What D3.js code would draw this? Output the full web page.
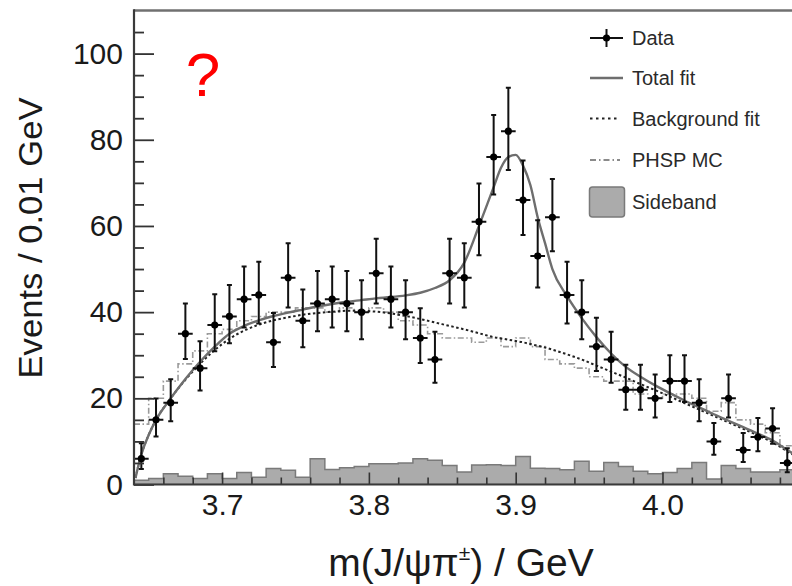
<!DOCTYPE html>
<html>
<head>
<meta charset="utf-8">
<script src="https://cdn.jsdelivr.net/npm/d3@7"></script>
<style>
  body { margin: 0; background: #fff; }
  svg { display: block; }
  text { font-family: "Liberation Sans", Arial, Helvetica, sans-serif; }
</style>
</head>
<body>
<svg id="chart" width="792" height="586"></svg>
<script>
// ---- Data: m(J/psi pi) spectrum, 0.01 GeV bins ----
const binCenters = [3.645,3.655,3.665,3.675,3.685,3.695,3.705,3.715,3.725,3.735,
  3.745,3.755,3.765,3.775,3.785,3.795,3.805,3.815,3.825,3.835,
  3.845,3.855,3.865,3.875,3.885,3.895,3.905,3.915,3.925,3.935,
  3.945,3.955,3.965,3.975,3.985,3.995,4.005,4.015,4.025,4.035,
  4.045,4.055,4.065,4.075,4.085];
const binWidth = 0.01;

const dataCounts = [6,15,19,35,27,37,39,43,44,33,
  48,38,42,43,42,40,49,43,40,34,
  29,49,48,61,76,82,66,53,62,44,
  40,32,29,22,22,20,24,24,19,10,
  20,8,11,13,5];

const sidebandCounts = [1.0,1.4,2.5,1.9,1.4,2.5,1.4,2.8,1.7,3.7,
  3.3,1.7,6.0,3.5,3.9,4.2,4.8,4.8,5.0,6.0,
  5.6,4.4,2.9,4.5,4.6,4.4,6.5,3.8,3.7,3.4,
  5.4,3.1,5.1,4.2,3.1,2.5,2.8,3.7,5.1,1.3,
  4.4,3.7,2.9,2.9,3.4];

const phspCounts = [14,20,24,28,31,35,36,38,39,40,
  40,41,41,40,41,40,41,40,38,37,
  35,34,34,33,34,32,34,32,29,28,
  27,25,24,24,21,20,21,21,20,17,
  19,15,14,12,9];

// Fit curves sampled along the mass axis
const fitMass = [3.641,3.645,3.650,3.655,3.665,3.675,3.685,3.695,3.705,3.715,
  3.725,3.735,3.745,3.755,3.765,3.775,3.785,3.795,3.805,3.815,
  3.825,3.835,3.845,3.855,3.865,3.875,3.885,3.890,3.895,3.900,
  3.905,3.910,3.915,3.920,3.925,3.935,3.945,3.955,3.965,3.975,
  3.985,3.995,4.005,4.015,4.025,4.035,4.045,4.055,4.065,4.075,
  4.085,4.092];
const totalFit = [1.5,7,11.5,15,20,24.5,28.5,32,35,36.8,
  38.1,39.1,39.9,40.6,41.3,41.9,42.4,42.8,43.2,43.5,
  43.9,44.5,45.6,47.4,51.5,60,69,73.5,76,76.5,
  74,69.5,62,56,50,43.7,38.6,34.2,30.4,27.3,
  25,23,21.2,19.5,17.9,16.3,14.8,13.3,11.8,10.2,
  8,6.5];
const backgroundFit = [1.5,7,11.5,15,20,24.3,28,31.2,33.8,35.7,
  37.1,38.1,38.8,39.4,39.8,40.1,40.3,40.3,40.1,39.7,
  39.1,38.4,37.6,36.8,36,35.1,34.2,33.9,33.6,33.3,
  33,32.6,32.2,31.8,31.3,30.2,29,27.6,26.2,24.8,
  23.3,21.9,20.4,18.9,17.4,15.9,14.4,12.9,11.4,9.8,
  7.7,6.3];

// Axis ticks and labels
const xMajorTicks = [3.7, 3.8, 3.9, 4.0];
const xMinorTicks = [3.66,3.68,3.72,3.74,3.76,3.78,3.82,3.84,3.86,3.88,3.92,3.94,3.96,3.98,4.02,4.04,4.06,4.08];
const yMajorTicks = [0, 20, 40, 60, 80, 100];
const yMinorTicks = [5,10,15,25,30,35,45,50,55,65,70,75,85,90,95,105];

const legendItems = ["Data", "Total fit", "Background fit", "PHSP MC", "Sideband"];

// ---- Layout ----
const W = 792, H = 586;
const plotLeft = 134, plotTop = 10.5, plotBottom = 484.5;

const svg = d3.select("#chart");
svg.append("rect").attr("width", W).attr("height", H).attr("fill", "#fff");

const x = d3.scaleLinear().domain([3.64, 4.1]).range([plotLeft, plotLeft + 0.46 * 1468]);
const y = d3.scaleLinear().domain([0, 110]).range([plotBottom, plotTop]);

svg.append("defs").append("clipPath").attr("id", "plotClip")
  .append("rect").attr("x", plotLeft).attr("y", plotTop)
  .attr("width", W - plotLeft).attr("height", plotBottom - plotTop);

const plot = svg.append("g").attr("clip-path", "url(#plotClip)");

// Histogram helper: step points from bin centres
function stepPoints(values) {
  const pts = values.map((v, i) => [binCenters[i] - binWidth / 2, v]);
  const last = binCenters.length - 1;
  pts.push([binCenters[last] + binWidth / 2, values[last]]);
  return pts;
}

// Sideband (filled histogram)
const sbArea = d3.area()
  .x(d => x(d[0])).y0(y(0)).y1(d => y(d[1]))
  .curve(d3.curveStepAfter);
plot.append("path")
  .datum(stepPoints(sidebandCounts))
  .attr("d", sbArea)
  .attr("fill", "#ababab")
  .attr("stroke", "#7a7a7a")
  .attr("stroke-width", 1.5);

// PHSP MC (dash-dot histogram)
const stepLine = d3.line().x(d => x(d[0])).y(d => y(d[1])).curve(d3.curveStepAfter);
plot.append("path")
  .datum(stepPoints(phspCounts))
  .attr("d", stepLine)
  .attr("fill", "none")
  .attr("stroke", "#9a9a9a")
  .attr("stroke-width", 1.6)
  .attr("stroke-dasharray", "6,2.5,1.5,2.5");

// Fit curves
const smooth = d3.line().x(d => x(d[0])).y(d => y(d[1])).curve(d3.curveMonotoneX);
plot.append("path")
  .datum(fitMass.map((m, i) => [m, backgroundFit[i]]))
  .attr("d", smooth)
  .attr("fill", "none")
  .attr("stroke", "#222")
  .attr("stroke-width", 2)
  .attr("stroke-dasharray", "2.5,2.5");
plot.append("path")
  .datum(fitMass.map((m, i) => [m, totalFit[i]]))
  .attr("d", smooth)
  .attr("fill", "none")
  .attr("stroke", "#6e6e6e")
  .attr("stroke-width", 2.4);

// Data points with Poisson (Gehrels) intervals from the counts
const points = binCenters.map((c, i) => {
  const n = dataCounts[i];
  return { c, n, hi: Math.sqrt(n + 0.75) + 1, lo: Math.sqrt(Math.max(n - 0.25, 0)) };
});
const pg = plot.append("g").attr("stroke", "#111").attr("stroke-width", 2);
pg.selectAll("line.v").data(points).join("line")
  .attr("x1", d => x(d.c)).attr("x2", d => x(d.c))
  .attr("y1", d => y(d.n + d.hi)).attr("y2", d => y(d.n - d.lo));
pg.selectAll("line.h").data(points).join("line")
  .attr("x1", d => x(d.c - binWidth / 2)).attr("x2", d => x(d.c + binWidth / 2))
  .attr("y1", d => y(d.n)).attr("y2", d => y(d.n));
pg.selectAll("line.capT").data(points).join("line")
  .attr("x1", d => x(d.c) - 2.5).attr("x2", d => x(d.c) + 2.5)
  .attr("y1", d => y(d.n + d.hi)).attr("y2", d => y(d.n + d.hi));
pg.selectAll("line.capB").data(points).join("line")
  .attr("x1", d => x(d.c) - 2.5).attr("x2", d => x(d.c) + 2.5)
  .attr("y1", d => y(d.n - d.lo)).attr("y2", d => y(d.n - d.lo));
plot.append("g").selectAll("circle").data(points).join("circle")
  .attr("cx", d => x(d.c)).attr("cy", d => y(d.n)).attr("r", 3.6)
  .attr("fill", "#000");

// ---- Axes (ticks drawn inside the frame) ----
const axisColor = "#333";
const gx = svg.append("g").attr("transform", `translate(0,${plotBottom})`);
gx.call(d3.axisBottom(x).tickValues(xMinorTicks).tickSize(-7).tickFormat(""));
gx.append("g").call(d3.axisBottom(x).tickValues(xMajorTicks).tickSize(-12).tickPadding(9)
  .tickFormat(d3.format(".1f")));
gx.selectAll(".domain").remove();
gx.selectAll("line").attr("stroke", axisColor).attr("stroke-width", 1.6);
gx.selectAll("text").attr("font-size", 30).attr("fill", "#1a1a1a")
  .attr("font-family", "'Liberation Sans', Arial, sans-serif");

const gy = svg.append("g").attr("transform", `translate(${plotLeft},0)`);
gy.call(d3.axisLeft(y).tickValues(yMinorTicks).tickSize(-10).tickFormat(""));
gy.append("g").call(d3.axisLeft(y).tickValues(yMajorTicks).tickSize(-20).tickPadding(11)
  .tickFormat(d3.format("d")));
gy.selectAll(".domain").remove();
gy.selectAll("line").attr("stroke", axisColor).attr("stroke-width", 1.8);
gy.selectAll("text").attr("font-size", 30).attr("fill", "#1a1a1a")
  .attr("font-family", "'Liberation Sans', Arial, sans-serif");

// Frame lines
svg.append("line").attr("x1", plotLeft).attr("x2", W).attr("y1", plotTop).attr("y2", plotTop)
  .attr("stroke", "#707070").attr("stroke-width", 2.6);
svg.append("line").attr("x1", plotLeft).attr("x2", plotLeft).attr("y1", plotTop - 1.3).attr("y2", plotBottom + 1)
  .attr("stroke", "#3a3a3a").attr("stroke-width", 2.2);
svg.append("line").attr("x1", plotLeft).attr("x2", W).attr("y1", plotBottom).attr("y2", plotBottom)
  .attr("stroke", "#3a3a3a").attr("stroke-width", 2.2);

// ---- Axis titles ----
svg.append("text")
  .attr("transform", `translate(42,238) rotate(-90)`)
  .attr("text-anchor", "middle")
  .attr("font-size", 34)
  .attr("fill", "#1a1a1a")
  .attr("textLength", 281).attr("lengthAdjust", "spacingAndGlyphs")
  .text("Events / 0.01 GeV");

const xt = svg.append("text")
  .attr("x", 461).attr("y", 576)
  .attr("text-anchor", "middle")
  .attr("font-size", 39)
  .attr("fill", "#1a1a1a");
xt.append("tspan").text("m(J/ψπ");
xt.append("tspan").attr("font-size", 21).attr("dy", -16).text("±");
xt.append("tspan").attr("dy", 16).text(") / GeV");

// Red question mark
svg.append("text")
  .attr("x", 203).attr("y", 96)
  .attr("text-anchor", "middle")
  .attr("font-size", 62)
  .attr("font-family", "'DejaVu Sans', sans-serif")
  .attr("fill", "#ff0000")
  .text("?");

// ---- Legend ----
const lg = svg.append("g");
const lx0 = 590, lx1 = 623, ltx = 632;
const rowY = [38, 78, 118.5, 160, 202];
// Data
lg.append("line").attr("x1", lx0).attr("x2", lx1).attr("y1", rowY[0]).attr("y2", rowY[0])
  .attr("stroke", "#111").attr("stroke-width", 2);
lg.append("line").attr("x1", (lx0 + lx1) / 2).attr("x2", (lx0 + lx1) / 2).attr("y1", rowY[0] - 9).attr("y2", rowY[0] + 9)
  .attr("stroke", "#111").attr("stroke-width", 2);
lg.append("circle").attr("cx", (lx0 + lx1) / 2).attr("cy", rowY[0]).attr("r", 3.6).attr("fill", "#000");
// Total fit
lg.append("line").attr("x1", lx0).attr("x2", lx1).attr("y1", rowY[1]).attr("y2", rowY[1])
  .attr("stroke", "#6e6e6e").attr("stroke-width", 2.4);
// Background fit
lg.append("line").attr("x1", lx0).attr("x2", lx1 - 3).attr("y1", rowY[2]).attr("y2", rowY[2])
  .attr("stroke", "#222").attr("stroke-width", 2).attr("stroke-dasharray", "2.5,3.5");
// PHSP MC
lg.append("line").attr("x1", lx0).attr("x2", lx1 - 3).attr("y1", rowY[3]).attr("y2", rowY[3])
  .attr("stroke", "#8a8a8a").attr("stroke-width", 2).attr("stroke-dasharray", "6,3,1.5,3");
// Sideband
lg.append("rect").attr("x", 589.5).attr("y", 187).attr("width", 35).attr("height", 30).attr("rx", 3)
  .attr("fill", "#ababab").attr("stroke", "#7a7a7a").attr("stroke-width", 1.5);

lg.selectAll("text").data(legendItems).join("text")
  .attr("x", ltx).attr("y", (d, i) => rowY[i]).attr("dy", "0.36em")
  .attr("font-size", 20).attr("fill", "#2a2a2a")
  .text(d => d);
</script>
</body>
</html>
